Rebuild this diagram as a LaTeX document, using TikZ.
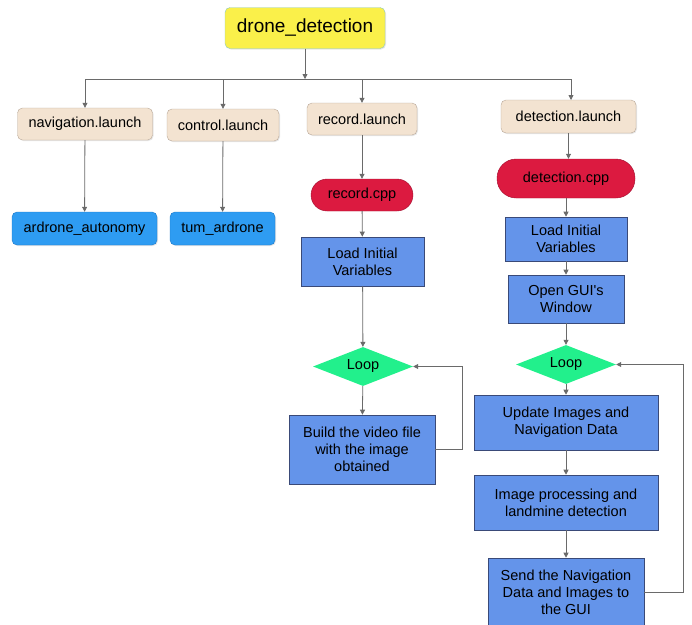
\documentclass[tikz,border=0pt]{standalone}
\usepackage{fontspec}
\setmainfont{Liberation Sans}
\usetikzlibrary{arrows.meta,shapes.geometric,shadows}
\definecolor{ylw}{HTML}{FAF04A}
\definecolor{ylwb}{HTML}{8CC8C0}
\definecolor{beige}{HTML}{F3E3D1}
\definecolor{beigeb}{HTML}{B9A898}
\definecolor{skyb}{HTML}{2E9CF2}
\definecolor{skybd}{HTML}{1C78C8}
\definecolor{crim}{HTML}{DC1A40}
\definecolor{crimb}{HTML}{A01030}
\definecolor{corn}{HTML}{6494EA}
\definecolor{cornb}{HTML}{3A4A78}
\definecolor{grn}{HTML}{22F08C}
\definecolor{lin}{HTML}{6A6A6A}
\tikzset{
  base/.style={inner sep=0pt, align=center, font=\fontsize{14.5}{17}\selectfont, text=black},
  top/.style={base, draw=ylwb, fill=ylw, rounded corners=5pt, minimum width=160pt, minimum height=41pt, font=\fontsize{19}{22}\selectfont, drop shadow={opacity=0.2,shadow xshift=1pt,shadow yshift=-1pt}},
  launch/.style={base, draw=beigeb, fill=beige, rounded corners=5pt, minimum height=32pt, drop shadow={opacity=0.2,shadow xshift=1pt,shadow yshift=-1pt}},
  pkg/.style={base, draw=skybd, fill=skyb, rounded corners=5pt, minimum height=33pt, drop shadow={opacity=0.2,shadow xshift=1pt,shadow yshift=-1pt}},
  cpp/.style={base, draw=crimb, fill=crim, rounded corners=16pt},
  proc/.style={base, draw=cornb, fill=corn, line width=0.6pt},
  loopd/.style={base, fill=grn, diamond, aspect=2.5, minimum width=100pt, minimum height=39pt},
  arr/.style={draw=lin, line width=0.8pt, -{Triangle[length=5pt,width=5pt]}},
  ln/.style={draw=lin, line width=0.8pt}
}
\begin{document}
\begin{tikzpicture}[x=1pt,y=-1pt]
\useasboundingbox (0,0) rectangle (692,624);
\node[top] (root) at (305,28) {drone\_detection};
\node[launch, minimum width=135pt] (nav) at (85,124) {navigation.launch};
\node[launch, minimum width=112pt] (ctl) at (223,125) {control.launch};
\node[launch, minimum width=110pt] (rec) at (362,119) {record.launch};
\node[launch, minimum width=135pt, minimum height=33pt] (det) at (568.5,116.5) {detection.launch};
\node[pkg, minimum width=145pt] (ard) at (84.5,228.5) {ardrone\_autonomy};
\node[pkg, minimum width=105pt] (tum) at (222.5,228.5) {tum\_ardrone};
\node[cpp, minimum width=102pt, minimum height=32pt] (rcpp) at (362,195) {record.cpp};
\node[proc, minimum width=123pt, minimum height=49pt] (rload) at (362.5,261.5) {Load Initial\\Variables};
\node[loopd] (rloop) at (363,366.5) {Loop};
\node[proc, minimum width=146pt, minimum height=69pt] (rbuild) at (362,449.5) {Build the video file\\with the image\\obtained};
\node[cpp, minimum width=138pt, minimum height=39pt, rounded corners=19pt] (dcpp) at (566,178.5) {detection.cpp};
\node[proc, minimum width=122pt, minimum height=44pt] (dload) at (566,239) {Load Initial\\Variables};
\node[proc, minimum width=116pt, minimum height=48pt] (gui) at (566,299) {Open GUI\textquotesingle s\\Window};
\node[loopd] (dloop) at (566,364.5) {Loop};
\node[proc, minimum width=184pt, minimum height=55pt] (upd) at (566,422.5) {Update Images and\\Navigation Data};
\node[proc, minimum width=184pt, minimum height=55pt] (imp) at (566,502.5) {Image processing and\\landmine detection};
\node[proc, minimum width=156pt, minimum height=68pt] (send) at (566,592) {Send the Navigation\\Data and Images to\\the GUI};
\coordinate (hub) at (305,79);
\draw[arr] (root) -- (hub);
\draw[ln] (nav.north |- hub) -- (571,79);
\draw[arr] (nav.north |- hub) -- (nav.north);
\draw[arr] (ctl.north |- hub) -- (ctl.north);
\draw[arr] (rec.north |- hub) -- (rec.north);
\draw[arr] (571,79) -- (571,100);
\draw[arr] (nav) -- (ard);
\draw[arr] (ctl) -- (tum);
\draw[arr] (rec) -- (rcpp);
\draw[arr] (rcpp) -- (rload);
\draw[arr] (rload) -- (rloop);
\draw[arr] (rloop) -- (rbuild);
\draw[arr] (rbuild.east) -- ++(27,0) |- (rloop.east);
\draw[arr] (det) -- (det.south |- dcpp.north);
\draw[arr] (dcpp) -- (dload);
\draw[arr] (dload) -- (gui);
\draw[arr] (gui) -- (dloop);
\draw[arr] (dloop) -- (upd);
\draw[arr] (upd) -- (imp);
\draw[arr] (imp) -- (send);
\draw[arr] (send.east) -- (683,592) |- (dloop.east);
\end{tikzpicture}
\end{document}
